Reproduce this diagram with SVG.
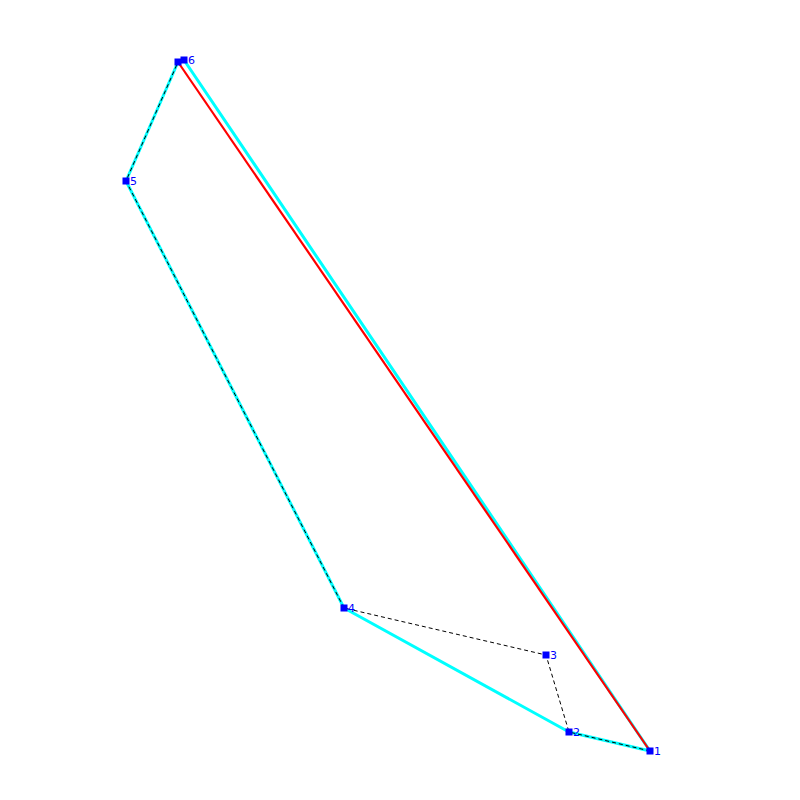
<svg xmlns="http://www.w3.org/2000/svg" width="800" height="800" viewBox="0 0 800 800">
<style>
.hull{fill:none;stroke:#00ffff;stroke-width:3;stroke-linejoin:round}
.red{fill:none;stroke:#ff0000;stroke-width:2.2}
.path{fill:none;stroke:#000;stroke-width:1;stroke-dasharray:4,3}
.pt{fill:#0000ff}
.lbl{fill:#0000ff;font-family:"DejaVu Sans",sans-serif;font-size:11px}
</style>
<rect width="800" height="800" fill="#fff"/>
<g id="connectors">
<polyline class="hull" points="650,751 569,732 344,608 126,181 178,62 184,60 650,751"/>
<line class="red" x1="178" y1="62" x2="650" y2="751"/>
<polyline class="path" points="650,751 569,732 546,655 344,608 126,181 178,62"/>
</g>
<g id="n0"><rect class="pt" x="174.5" y="58.5" width="7" height="7"/></g>
<g id="n6"><rect class="pt" x="180.5" y="56.5" width="7" height="7"/><text class="lbl" x="188" y="64">6</text></g>
<g id="n5"><rect class="pt" x="122.5" y="177.5" width="7" height="7"/><text class="lbl" x="130" y="185">5</text></g>
<g id="n4"><rect class="pt" x="340.5" y="604.5" width="7" height="7"/><text class="lbl" x="348" y="612">4</text></g>
<g id="n3"><rect class="pt" x="542.5" y="651.5" width="7" height="7"/><text class="lbl" x="550" y="659">3</text></g>
<g id="n2"><rect class="pt" x="565.5" y="728.5" width="7" height="7"/><text class="lbl" x="573" y="736">2</text></g>
<g id="n1"><rect class="pt" x="646.5" y="747.5" width="7" height="7"/><text class="lbl" x="654" y="755">1</text></g>
</svg>
